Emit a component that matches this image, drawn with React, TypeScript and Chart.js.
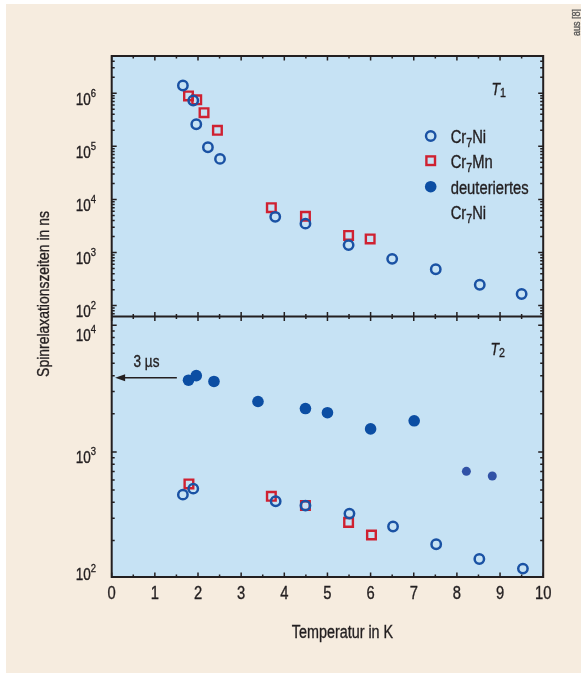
import React, { useEffect, useRef } from "react";
import { Chart, registerables } from "chart.js";

Chart.register(...registerables);

// ---------- data ----------
const tempT1Cr7Ni = [1.65, 1.89, 1.96, 2.23, 2.51, 3.79, 4.49, 5.49, 6.5, 7.51, 8.53, 9.5];
const t1Cr7Ni = [1.4e6, 7.3e5, 2.6e5, 9.6e4, 5.8e4, 4.7e3, 3.5e3, 1.38e3, 760, 485, 247, 165];

const tempT1Cr7Mn = [1.78, 1.97, 2.14, 2.45, 3.7, 4.49, 5.49, 5.99];
const t1Cr7Mn = [8.9e5, 7.5e5, 4.3e5, 2.0e5, 7.0e3, 4.8e3, 2.1e3, 1.8e3];

const tempT2Deut = [1.78, 1.96, 2.37, 3.39, 4.49, 5.0, 6.0, 7.01];
const t2Deut = [3680, 4000, 3600, 2500, 2200, 2040, 1520, 1760];

const tempT2DeutHigh = [8.22, 8.82];
const t2DeutHigh = [703, 646];

const tempT2Cr7Ni = [1.65, 1.89, 3.8, 4.49, 5.51, 6.52, 7.52, 8.52, 9.53];
const t2Cr7Ni = [460, 513, 408, 377, 326, 258, 187, 143, 120];

const tempT2Cr7Mn = [1.79, 3.7, 4.49, 5.49, 6.02];
const t2Cr7Mn = [559, 446, 377, 278, 221];

const xTickValues = [0, 1, 2, 3, 4, 5, 6, 7, 8, 9, 10];
const topDecades = [2, 3, 4, 5, 6];
const bottomDecades = [2, 3, 4];

const arrowLevel = 3850; // "3 µs" marker level in the T2 panel
const arrowFrom = 1.51;
const arrowTo = 0.08;

// ---------- styles ----------
const BEIGE = "#f6ecdf";
const PLOT_BG = "#c6e2f4";
const INK = "#231f20";
const BLUE_OPEN = "#1a52a4";
const BLUE_FILL = "#0c4ea3";
const BLUE_FILL_SMALL = "#3152a6";
const RED = "#cf2131";
const FONT = '"Liberation Sans", Arial, sans-serif';
const SQ = 0.82; // horizontal condensing of the text

const pts = (xs: number[], ys: number[]) => xs.map((x, i) => ({ x, y: ys[i] }));

type Part = { t: string; size: number; dy?: number; italic?: boolean };

function fontOf(p: Part) {
  return `${p.italic ? "italic " : ""}${p.size}px ${FONT}`;
}

function richWidth(ctx: CanvasRenderingContext2D, parts: Part[]) {
  let w = 0;
  for (const p of parts) {
    ctx.font = fontOf(p);
    w += ctx.measureText(p.t).width * SQ;
  }
  return w;
}

function drawRich(
  ctx: CanvasRenderingContext2D,
  parts: Part[],
  x: number,
  y: number,
  align: "left" | "right" | "center" = "left"
) {
  const w = richWidth(ctx, parts);
  let cx = align === "left" ? x : align === "right" ? x - w : x - w / 2;
  ctx.textAlign = "left";
  ctx.textBaseline = "alphabetic";
  for (const p of parts) {
    ctx.font = fontOf(p);
    ctx.save();
    ctx.translate(cx, y + (p.dy || 0));
    ctx.scale(SQ, 1);
    ctx.fillText(p.t, 0, 0);
    ctx.strokeStyle = ctx.fillStyle as string;
    ctx.lineWidth = 0.35;
    ctx.strokeText(p.t, 0, 0);
    ctx.restore();
    cx += ctx.measureText(p.t).width * SQ;
  }
}

const crX = (size: number, tail: string): Part[] => [
  { t: "Cr", size },
  { t: "7", size: size * 0.72, dy: 3.5 },
  { t: tail, size },
];

const decorPlugin = {
  id: "decor",
  beforeDraw(chart: any) {
    const { ctx, chartArea: ca } = chart;
    ctx.save();
    ctx.fillStyle = BEIGE;
    ctx.fillRect(6, 4, chart.width - 6, chart.height - 4);
    ctx.fillStyle = PLOT_BG;
    ctx.fillRect(ca.left, ca.top, ca.right - ca.left, ca.bottom - ca.top);
    ctx.restore();
  },
  afterDraw(chart: any) {
    const { ctx, chartArea: ca } = chart;
    const xs = chart.scales.x;
    const yTop = chart.scales.yTop;
    const yBot = chart.scales.yBot;
    const mid = yTop.bottom;

    ctx.save();
    ctx.strokeStyle = INK;
    ctx.fillStyle = INK;

    // frame + divider
    ctx.lineWidth = 2;
    ctx.strokeRect(ca.left, ca.top, ca.right - ca.left, ca.bottom - ca.top);
    ctx.beginPath();
    ctx.moveTo(ca.left, mid);
    ctx.lineTo(ca.right, mid);
    ctx.stroke();

    // x ticks
    ctx.lineWidth = 1.5;
    ctx.beginPath();
    for (let v = 0; v <= 10.001; v += 0.5) {
      const px = xs.getPixelForValue(v);
      const major = Math.abs(v - Math.round(v)) < 1e-6;
      const len = major ? 4.5 : 2.5;
      ctx.moveTo(px, ca.top);
      ctx.lineTo(px, ca.top + len);
      ctx.moveTo(px, mid - len);
      ctx.lineTo(px, mid + len);
      ctx.moveTo(px, ca.bottom);
      ctx.lineTo(px, ca.bottom - len);
    }
    ctx.stroke();

    // log ticks
    const logTicks = (s: any) => {
      const e0 = Math.floor(Math.log10(s.min));
      const e1 = Math.ceil(Math.log10(s.max));
      ctx.beginPath();
      for (let e = e0; e <= e1; e++) {
        for (let d = 1; d <= 9; d++) {
          const v = d * Math.pow(10, e);
          if (v < s.min || v > s.max) continue;
          const py = s.getPixelForValue(v);
          const len = d === 1 ? 5 : 3;
          ctx.moveTo(ca.left, py);
          ctx.lineTo(ca.left + len, py);
          ctx.moveTo(ca.right, py);
          ctx.lineTo(ca.right - len, py);
        }
      }
      ctx.stroke();
    };
    logTicks(yTop);
    logTicks(yBot);

    // y labels
    const yLabels = (s: any, decs: number[]) => {
      for (const e of decs) {
        const py = s.getPixelForValue(Math.pow(10, e));
        let base = py + 11.5;
        base = Math.min(base, s.bottom + 3);
        base = Math.max(base, s.top + 24);
        drawRich(ctx, [{ t: "10", size: 16.5 }, { t: String(e), size: 11.5, dy: -8 }], 96, base, "right");
      }
    };
    yLabels(yTop, topDecades);
    yLabels(yBot, bottomDecades);

    // x labels
    for (const v of xTickValues) {
      drawRich(ctx, [{ t: String(v), size: 18 }], xs.getPixelForValue(v), ca.bottom + 22.3, "center");
    }

    // axis titles
    drawRich(ctx, [{ t: "Temperatur in K", size: 17.5 }], 342.5, 637.5, "center");
    ctx.save();
    ctx.translate(48.5, 294);
    ctx.rotate(-Math.PI / 2);
    drawRich(ctx, [{ t: "Spinrelaxationszeiten in ns", size: 17 }], 0, 0, "center");
    ctx.restore();

    // source note
    ctx.save();
    ctx.fillStyle = "#555555";
    ctx.translate(579.5, 22.5);
    ctx.rotate(-Math.PI / 2);
    drawRich(ctx, [{ t: "aus [8]", size: 11 }], 0, 0, "center");
    ctx.restore();

    // panel labels
    drawRich(ctx, [{ t: "T", size: 17, italic: true }, { t: "1", size: 13, dy: 2 }], xs.getPixelForValue(8.8), yTop.getPixelForValue(1.2e6) + 6, "left");
    drawRich(ctx, [{ t: "T", size: 17, italic: true }, { t: "2", size: 13, dy: 2 }], xs.getPixelForValue(8.78), yBot.getPixelForValue(6730) + 7.5, "left");

    // legend
    const mx = ca.right - 112.5;
    const tx = ca.right - 92.5;
    const rows = [ca.top + 87.3, ca.top + 112.3, ca.top + 137.5, ca.top + 163];
    ctx.lineWidth = 2.4;
    ctx.strokeStyle = BLUE_OPEN;
    ctx.beginPath();
    ctx.arc(mx, rows[0] - 7.3, 4.7, 0, Math.PI * 2);
    ctx.stroke();
    ctx.strokeStyle = RED;
    ctx.strokeRect(mx - 4.3, rows[1] - 7.6 - 4.3, 8.6, 8.6);
    ctx.fillStyle = BLUE_FILL;
    ctx.beginPath();
    ctx.arc(mx, rows[2] - 6.8, 5.8, 0, Math.PI * 2);
    ctx.fill();
    ctx.fillStyle = INK;
    drawRich(ctx, crX(18, "Ni"), tx, rows[0]);
    drawRich(ctx, crX(18, "Mn"), tx, rows[1]);
    drawRich(ctx, [{ t: "deuteriertes", size: 18 }], tx, rows[2]);
    drawRich(ctx, crX(18, "Ni"), tx, rows[3]);

    // 3 µs arrow
    const ay = yBot.getPixelForValue(arrowLevel);
    const ax0 = xs.getPixelForValue(arrowFrom);
    const ax1 = xs.getPixelForValue(arrowTo);
    ctx.strokeStyle = INK;
    ctx.lineWidth = 1.5;
    ctx.beginPath();
    ctx.moveTo(ax0, ay);
    ctx.lineTo(ax1 + 8, ay);
    ctx.stroke();
    ctx.beginPath();
    ctx.moveTo(ax1, ay);
    ctx.lineTo(ax1 + 10, ay - 3.5);
    ctx.lineTo(ax1 + 10, ay + 3.5);
    ctx.closePath();
    ctx.fill();
    drawRich(ctx, [{ t: "3 µs", size: 16.5 }], (ax0 + ax1) / 2 + 0.5, ay - 10.5, "center");

    ctx.restore();
  },
};

export default function App() {
  const ref = useRef<HTMLCanvasElement | null>(null);

  useEffect(() => {
    const canvas = ref.current;
    if (!canvas) return;
    const openCircle = {
      pointStyle: "circle",
      pointRadius: 4.7,
      pointBorderWidth: 2.5,
      pointBorderColor: BLUE_OPEN,
      pointBackgroundColor: "rgba(0,0,0,0)",
      showLine: false,
    };
    const openSquare = {
      pointStyle: "rect",
      pointRadius: 6.1,
      pointBorderWidth: 2.4,
      pointBorderColor: RED,
      pointBackgroundColor: "rgba(0,0,0,0)",
      showLine: false,
    };
    const chart = new Chart(canvas, {
      type: "scatter",
      data: {
        datasets: [
          { label: "Cr7Ni T1", data: pts(tempT1Cr7Ni, t1Cr7Ni), yAxisID: "yTop", order: 1, ...openCircle },
          { label: "Cr7Mn T1", data: pts(tempT1Cr7Mn, t1Cr7Mn), yAxisID: "yTop", order: 2, ...openSquare },
          {
            label: "deut. Cr7Ni T2",
            data: pts(tempT2Deut, t2Deut),
            yAxisID: "yBot",
            order: 0,
            pointStyle: "circle",
            pointRadius: 5.8,
            pointBorderWidth: 0,
            pointBackgroundColor: BLUE_FILL,
            pointBorderColor: BLUE_FILL,
          },
          {
            label: "deut. Cr7Ni T2 (high T)",
            data: pts(tempT2DeutHigh, t2DeutHigh),
            yAxisID: "yBot",
            order: 0,
            pointStyle: "circle",
            pointRadius: 4.5,
            pointBorderWidth: 0,
            pointBackgroundColor: BLUE_FILL_SMALL,
            pointBorderColor: BLUE_FILL_SMALL,
          },
          { label: "Cr7Ni T2", data: pts(tempT2Cr7Ni, t2Cr7Ni), yAxisID: "yBot", order: 1, ...openCircle },
          { label: "Cr7Mn T2", data: pts(tempT2Cr7Mn, t2Cr7Mn), yAxisID: "yBot", order: 2, ...openSquare },
        ] as any,
      },
      options: {
        animation: false,
        responsive: false,
        maintainAspectRatio: false,
        devicePixelRatio: 1,
        events: [],
        layout: { padding: { left: 111.7, right: 581 - 543.2, top: 56, bottom: 673 - 577 } },
        plugins: { legend: { display: false }, tooltip: { enabled: false }, title: { display: false } },
        scales: {
          x: { type: "linear", min: 0, max: 10, display: false },
          yBot: { type: "logarithmic", position: "left", stack: "panels", stackWeight: 1, min: 103, max: 11716, display: false },
          yTop: { type: "logarithmic", position: "left", stack: "panels", stackWeight: 1, min: 62.4, max: 5.02e6, display: false },
        } as any,
      },
      plugins: [decorPlugin as any],
    });
    return () => chart.destroy();
  }, []);

  return (
    <div style={{ position: "absolute", left: 0, top: 0, width: 581, height: 673, background: "#ffffff" }}>
      <canvas ref={ref} width={581} height={673} style={{ display: "block", width: 581, height: 673 }} />
    </div>
  );
}
